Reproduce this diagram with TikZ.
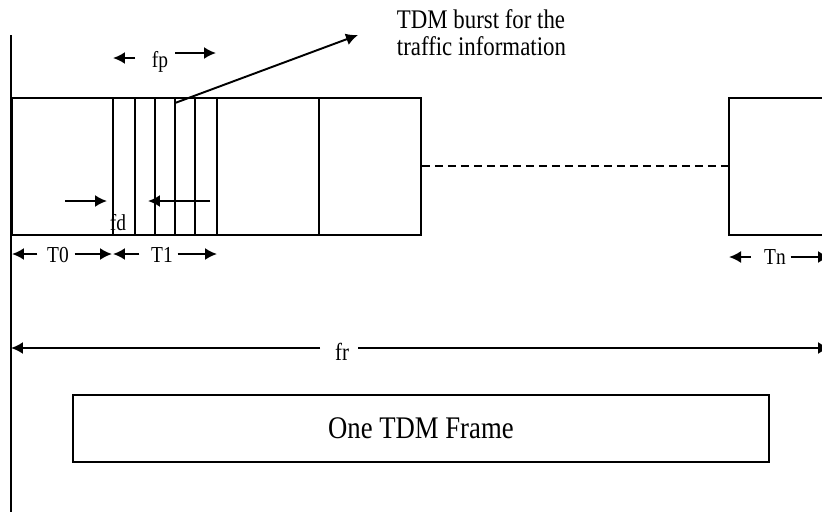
\documentclass[tikz,border=0pt]{standalone}
\usepackage{fontspec}
\setmainfont[FakeStretch=0.85]{Liberation Serif}
\usetikzlibrary{arrows.meta, positioning}

\tikzset{
  lbl/.style={font=\fontsize{13}{15}\selectfont, inner sep=1pt},
  dim/.style={-{Latex[length=2.4mm, width=2.4mm]}, line width=1.1pt}
}

\begin{document}
\begin{tikzpicture}[x=0.02cm, y=-0.02cm, line width=1.1pt]
  \useasboundingbox (0,0) rectangle (822,512);
  \draw (11,35) -- (11,512);
  % the slots of the frame
  \node (slots) [draw, minimum width=8.18cm, minimum height=2.74cm, anchor=north west, inner sep=0pt] at (11,97) {};
  \foreach \x in {113,135,155,175,195,217,319} \draw (\x,97) -- (\x,234);
  \node (last) [draw, minimum width=3.5cm, minimum height=2.74cm, anchor=north west, inner sep=0pt] at (728,97) {};
  \draw[dash pattern=on 1.6mm off 1mm] (slots.east) -- (last.west);
  % burst note
  \node (note) [anchor=north west, align=left, inner sep=0pt, font=\fontsize{15.3}{15}\selectfont] at (396,9) {TDM burst for the\\traffic information};
  \coordinate (burst) at (175,103);
  \coordinate (tip) at (358,35);
  \draw[dim] (burst) -- (tip);
  % widths of a slot
  \node (fp) [lbl] at (160,62) {fp};
  \coordinate (fpL) at (113,58); \coordinate (fpR) at (216,53);
  \draw[dim] (135,58) -- (fpL);
  \draw[dim] (175,53) -- (fpR);
  \node (fd) [lbl] at (118,223) {fd};
  \coordinate (fdL) at (107,201); \coordinate (fdR) at (148,201);
  \draw[dim] (65,201) -- (fdL);
  \draw[dim] (210,201) -- (fdR);
  % slot times
  \node (T0) [lbl] at (58,255) {T0};
  \node (T1) [lbl] at (162,255) {T1};
  \node (Tn) [lbl] at (775,257) {Tn};
  \coordinate (a0) at (12,254); \coordinate (b0) at (112,254);
  \coordinate (a1) at (113,254); \coordinate (b1) at (217,254);
  \coordinate (an) at (729,257); \coordinate (bn) at (830,257);
  \draw[dim] (T0.west) ++(-7,-1) -- (a0);
  \draw[dim] (T0.east) ++(3,-1) -- (b0);
  \draw[dim] (T1.west) ++(-9,-1) -- (a1);
  \draw[dim] (T1.east) ++(2,-1) -- (b1);
  \draw[dim] (Tn.west) ++(-11,0) -- (an);
  \draw[dim] (Tn.east) ++(2,0) -- (bn);
  % frame length
  \node (fr) [lbl, font=\fontsize{14}{16}\selectfont] at (342,352) {fr};
  \coordinate (frL) at (11,348); \coordinate (frR) at (830,348);
  \draw[dim] (320,348) -- (frL);
  \draw[dim] (358,348) -- (frR);
  \node (frame) [draw, minimum width=13.92cm, minimum height=1.34cm, anchor=north west, font=\fontsize{17.9}{20}\selectfont] at (72,394) {One TDM Frame};
\end{tikzpicture}
\end{document}
